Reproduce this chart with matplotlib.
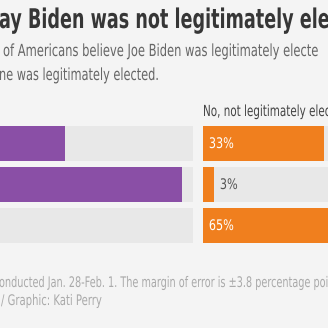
import matplotlib.pyplot as plt
from matplotlib.patheffects import AbstractPathEffect
from matplotlib.transforms import Affine2D

# survey rows (labels sit left of the visible crop)
groups = ['All adults', 'Democrats', 'Republicans']
yes_vals = [65, 97, 33]
no_vals = [33, 3, 65]
no_header = 'No, not legitimately elected'

title = 'ay Biden was not legitimately ele'
subtitle = ['of Americans believe Joe Biden was legitimately electe',
            'ne was legitimately elected.']
footer = ['onducted Jan. 28-Feb. 1. The margin of error is \u00b13.8 percentage poi',
          '/ Graphic: Kati Perry']

BG = '#f4f4f4'
TRACK = '#e8e8e8'
PURPLE = '#8a4fa6'
ORANGE = '#f07f1e'


class Squeeze(AbstractPathEffect):
    """Draw text narrower, like a condensed face."""

    def __init__(self, sx):
        super().__init__()
        self.sx = sx

    def draw_path(self, renderer, gc, tpath, affine, rgbFace=None):
        renderer.draw_path(gc, tpath, Affine2D().scale(self.sx, 1) + affine, rgbFace)


W, H = 328, 328
fig = plt.figure(figsize=(W / 100, H / 100), dpi=100, facecolor=BG)


def px(x, y):
    return x / W, 1 - y / H


def label(x, y, s, size, color, sx, **kw):
    fig.text(*px(x, y), s, fontsize=size, color=color, va='baseline', ha='left',
             path_effects=[Squeeze(sx)], **kw)


# panel geometry in pixels
panel_w = 367
top, bottom = 126, 243
bh = 35 / 41


def panel(x0):
    ax = fig.add_axes([x0 / W, 1 - bottom / H, panel_w / W, (bottom - top) / H])
    ax.set_xlim(0, 100)
    ax.set_ylim(len(groups) - 1 + bh / 2, -bh / 2)
    ax.axis('off')
    ax.barh(range(len(groups)), [100] * len(groups), height=bh, color=TRACK)
    return ax


left = panel(193 - panel_w)
left.barh(range(len(groups)), yes_vals, height=bh, color=PURPLE)

right = panel(203)
right.barh(range(len(groups)), no_vals, height=bh, color=ORANGE)
for i, v in enumerate(no_vals):
    inside = v > 10
    right.text(1.6 if inside else v + 1.6, i, f'{v}%', va='center', ha='left',
               color='white' if inside else '#555555', fontsize=10.5,
               path_effects=[Squeeze(0.77)])

label(203, 116, no_header, 11, '#444444', 0.68)

label(-1, 28, title, 19.5, '#363636', 0.65, fontweight='bold')
label(3, 56, subtitle[0], 12, '#666666', 0.69)
label(-1, 80, subtitle[1], 12, '#666666', 0.68)

label(-1, 287, footer[0], 10.5, '#aaaaaa', 0.665)
label(1, 305, footer[1], 10.5, '#aaaaaa', 0.69)

fig.savefig('out.png', dpi=100, facecolor=BG)
